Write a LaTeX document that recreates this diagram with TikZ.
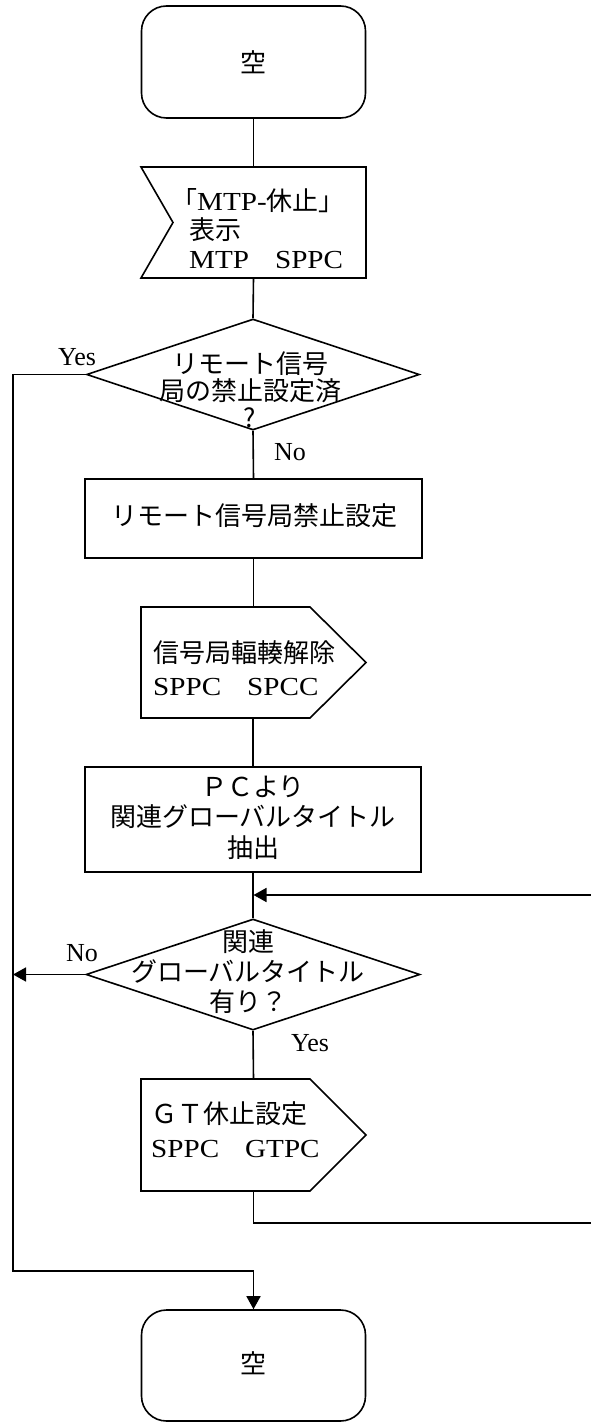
\documentclass[tikz,border=0pt]{standalone}
\usepackage{fontspec}
\setmainfont{Liberation Serif}
\newfontfamily\jp{Noto Sans CJK JP}
\newfontfamily\lw[FakeStretch=1.12]{Liberation Serif}
\usetikzlibrary{arrows.meta,shapes.geometric,calc}
\tikzset{
  ln/.style={line width=1.6pt, line join=miter},
  arr/.style={ln, -{Triangle[length=13pt,width=14pt]}},
  term/.style={ln, draw, rounded corners=25pt, minimum width=224pt, minimum height=112pt, inner sep=0pt},
  proc/.style={ln, draw, minimum width=337pt, inner sep=0pt},
  blank/.style={inner sep=0pt, outer sep=0pt},
  dec/.style={ln, draw, diamond, inner sep=0pt, minimum width=333pt, minimum height=111pt},
  txt/.style={inner sep=0pt, font=\fontsize{26}{30}\selectfont},
  lab/.style={inner sep=0pt, font=\fontsize{26}{30}\selectfont}
}
\begin{document}
\begin{tikzpicture}[x=1pt,y=-1pt]
\useasboundingbox (0,0) rectangle (591,1423);
% nodes
\node[term] (start) at (253.5,62) {};
\node[txt] (startt) at (253.5,62) {\jp 空};

\node[blank, minimum width=225pt, minimum height=111pt] (disp) at (253.5,222.5) {};
\draw[ln] (disp.north west) -- (disp.north east) -- (disp.south east) -- (disp.south west) -- ($(disp.west)+(32,0)$) -- cycle;
\node[txt, anchor=west, align=left, font=\fontsize{26}{29}\selectfont\lw] (dispt) at (189,229)
  {{\jp\hspace*{-18pt}「}MTP-{\jp 休止」}\\{\jp 表示}\\MTP{\jp 　}SPPC};

\node[dec] (dec1) at (253,374.5) {};
\node[txt, align=center, font=\fontsize{26}{27}\selectfont] (dec1t) at (250,390)
  {\jp リモート信号\\\jp 局の禁止設定済\\\jp ?};

\node[proc, minimum height=79pt] (rect1) at (253.5,518.5) {};
\node[txt] (rect1t) at (254,516) {\jp リモート信号局禁止設定};

\node[blank, minimum width=225pt, minimum height=111pt] (send1) at (253.5,662.5) {};
\draw[ln] (send1.north west) -- ($(send1.north east)+(-56,0)$) -- (send1.east) -- ($(send1.south east)+(-56,0)$) -- (send1.south west) -- cycle;
\node[txt, anchor=west, align=left, font=\fontsize{26}{33}\selectfont\lw] (send1t) at (153,668.5)
  {{\jp 信号局輻輳解除}\\SPPC{\jp 　}SPCC};

\node[proc, minimum height=105pt, minimum width=336pt] (pc) at (253,819.5) {};
\node[txt, align=center, font=\fontsize{26}{30.5}\selectfont] (pct) at (253,817.5)
  {\jp ＰＣより\\\jp 関連グローバルタイトル\\\jp 抽出};

\coordinate (j1) at (253.5,895);

\node[dec, minimum width=334pt] (dec2) at (253,974.5) {};
\node[txt, align=center, font=\fontsize{26}{30}\selectfont] (dec2t) at (248,972)
  {\jp 関連\\\jp グローバルタイトル\\\jp 有り？};

\node[blank, minimum width=225pt, minimum height=112pt] (send2) at (253.5,1135) {};
\draw[ln] (send2.north west) -- ($(send2.north east)+(-56,0)$) -- (send2.east) -- ($(send2.south east)+(-56,0)$) -- (send2.south west) -- cycle;
\node[txt, anchor=west, align=left, font=\fontsize{26}{34}\selectfont\lw] (send2t) at (151,1130)
  {{\jp ＧＴ休止設定}\\SPPC{\jp 　}GTPC};

\node[term, minimum height=111pt] (end) at (253.5,1365.5) {};
\node[txt] (endt) at (253.5,1363) {\jp 空};

% helper coordinates
\coordinate (lt) at (13,374.5);
\coordinate (lb) at (13,1271);
\coordinate (rt) at (600,895);
\coordinate (rb) at (600,1223);

% labels
\node[lab] (yes1) at (77,357) {Yes};
\node[lab] (no1) at (290,452) {No};
\node[lab] (no2) at (82,953) {No};
\node[lab] (yes2) at (310,1043) {Yes};

% connectors
\draw[ln] (start.south) -- (disp.north);
\draw[ln] (disp.south) -- (dec1.north);
\draw[ln] (dec1.south) -- (rect1.north);
\draw[ln] (rect1.south) -- (send1.north);
\draw[ln] (send1.south) -- (pc.south |- send1.south) -- (pc.north);
\draw[ln] (pc.south) -- (dec2.north);
\draw[ln] (dec2.south) -- (send2.north);
\draw[ln] (dec1.west) -- (lt) -- (lb) -- (lb -| end.north) -- (end.north);
\draw[arr] (lb -| end.north) -- (end.north);
\draw[arr] (dec2.west) -- (dec2.west -| lt);
\draw[ln] (send2.south) -- (send2.south |- rb) -- (rb) -- (rt);
\draw[arr] (rt) -- (j1);
\end{tikzpicture}
\end{document}
